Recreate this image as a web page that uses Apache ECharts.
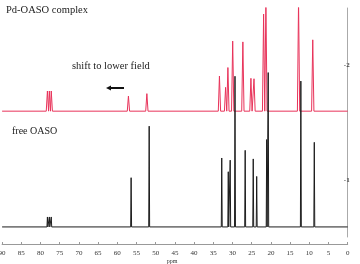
<!DOCTYPE html>
<html>
<head>
<meta charset="utf-8">
<script src="https://cdn.jsdelivr.net/npm/echarts@6/dist/echarts.min.js"></script>
<style>html,body{margin:0;padding:0;background:#fff}#c{width:360px;height:264px}</style>
</head>
<body>
<div id="c"></div>
<script>
// x ticks (ppm)
const xTicks = [90,85,80,75,70,65,60,55,50,45,40,35,30,25,20,15,10,5,0];
const xName = 'ppm';
const yTickLabels = [1, 2];
// free OASO (black)
const freeBase = 0.588;
const freePeakPpm = [78.2, 77.7, 77.2, 56.4, 51.7, 32.8, 31.1, 30.6, 29.35, 26.7, 24.6, 23.7, 21.1, 20.7, 12.2, 8.7];
const freePeakTop = [0.675, 0.675, 0.675, 1.018, 1.468, 1.19, 1.07, 1.171, 1.904, 1.257, 1.182, 1.029, 1.351, 1.936, 1.862, 1.327];
// Pd-OASO complex (red)
const pdBase = 1.599;
const pdPeakPpm = [78.2, 77.7, 77.2, 57.1, 52.3, 33.4, 31.8, 31.2, 29.95, 27.3, 25.2, 24.4, 21.9, 21.3, 12.8, 9.1];
const pdPeakTop = [1.775, 1.775, 1.775, 1.731, 1.752, 1.906, 1.807, 1.98, 2.211, 2.204, 1.886, 1.882, 2.447, 2.564, 2.564, 2.222];

function spectrum(base, ppm, top, w) {
  const pts = [[90, base]];
  ppm.forEach((p, i) => {
    pts.push([p + w, base]);
    pts.push([p, top[i]]);
    pts.push([p - w, base]);
  });
  pts.push([0, base]);
  return pts;
}

const chart = echarts.init(document.getElementById('c'), null, {renderer: 'canvas'});
const serif = 'Liberation Serif';
chart.setOption({
  animation: false,
  grid: {left: 2.1, right: 12.3, top: 8, bottom: 27, containLabel: false, outerBoundsMode: 'none'},
  xAxis: {
    type: 'value', inverse: true, min: 0, max: 90, interval: 5,
    offset: 7,
    axisLine: {show: true, lineStyle: {color: '#999', width: 1}},
    axisTick: {show: true, inside: true, length: 2, lineStyle: {color: '#999'}},
    minorTick: {show: false},
    splitLine: {show: false},
    axisLabel: {fontFamily: serif, fontSize: 7, color: '#333', margin: 6, hideOverlap: false,
      showMinLabel: true, showMaxLabel: true,
      formatter: v => xTicks.indexOf(v) >= 0 ? String(v) : ''}
  },
  yAxis: {
    type: 'value', position: 'right', min: 0.5, max: 2.5, interval: 0.5, offset: 4,
    axisLine: {show: true, lineStyle: {color: '#aaa', width: 1}},
    axisTick: {show: false},
    splitLine: {show: false},
    axisLabel: {inside: true, margin: 2, fontFamily: serif, fontSize: 7, fontWeight: 'bold', color: '#444',
      formatter: v => yTickLabels.indexOf(v) >= 0 ? '-' + v : ''}
  },
  series: [
    {type: 'line', data: spectrum(pdBase, pdPeakPpm, pdPeakTop, 0.3), showSymbol: false, clip: true,
      lineStyle: {color: '#e8335a', width: 1}, itemStyle: {color: '#e8335a'}},
    {type: 'line', data: spectrum(freeBase, freePeakPpm, freePeakTop, 0.12), showSymbol: false, clip: true,
      lineStyle: {color: '#1c1c1c', width: 1}, itemStyle: {color: '#1c1c1c'}}
  ],
  graphic: [
    {type: 'text', left: 6, top: 5, style: {text: 'Pd-OASO complex', font: '10.5px "Liberation Serif"', fill: '#222'}},
    {type: 'text', left: 72, top: 61, style: {text: 'shift to lower field', font: '10.5px "Liberation Serif"', fill: '#222'}},
    {type: 'text', left: 12, top: 126, style: {text: 'free OASO', font: '10px "Liberation Serif"', fill: '#222'}},
    {type: 'text', x: 172, y: 261, style: {text: xName, font: '6px "Liberation Serif"', fill: '#333', align: 'center', verticalAlign: 'middle'}},
    {type: 'line', shape: {x1: 110, y1: 88, x2: 124, y2: 88}, style: {stroke: '#111', lineWidth: 2}},
    {type: 'polygon', shape: {points: [[106, 88], [111, 85.5], [111, 90.5]]}, style: {fill: '#111'}}
  ]
});
</script>
</body>
</html>
